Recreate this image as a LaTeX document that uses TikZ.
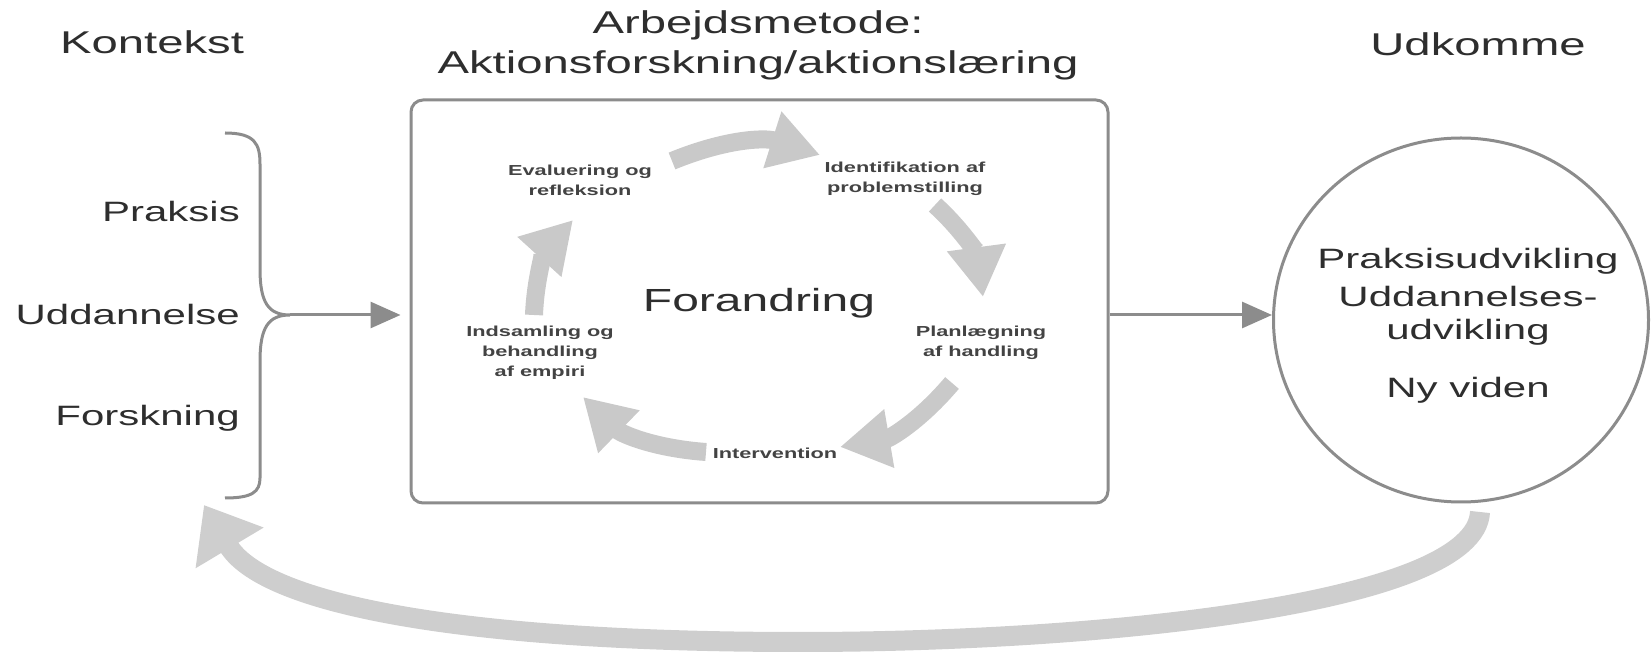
\documentclass[tikz,border=0pt]{standalone}
\usepackage{fontspec}
\setmainfont{Liberation Sans}[FakeStretch=1.5]
\usetikzlibrary{arrows.meta,shapes.geometric}
\definecolor{tekst}{HTML}{2E2E2E}
\definecolor{stregfarve}{HTML}{8C8C8C}
\definecolor{lys}{HTML}{C9C9C9}
\newcommand{\titelfont}{\fontsize{31.5}{40}\selectfont}
\newcommand{\punktfont}{\fontsize{28}{33}\selectfont}
\newcommand{\trinfont}{\fontsize{14.5}{20}\selectfont\bfseries}
\begin{document}
\begin{tikzpicture}[x=1pt,y=1pt,
  titel/.style={inner sep=0pt, text=tekst, font=\titelfont, align=center},
  punkt/.style={inner sep=0pt, text=tekst, font=\punktfont, align=center},
  trin/.style={inner sep=0pt, text=tekst!90, font=\trinfont, align=center},
  streg/.style={draw=stregfarve, line width=3pt},
  pil/.style={streg, -{Triangle[length=30pt,width=26pt]}},
  kredspil/.style={draw=lys, line width=18pt, -{Triangle[length=50pt,width=56pt]}}]
\useasboundingbox (0,0) rectangle (1652,664);

% overskrifter
\node [titel] (kontekst) at (152,622) {Kontekst};
\node [titel] (arbejd) at (758,619) {Arbejdsmetode:\\Aktionsforskning/aktionslæring};
\node [titel] (udk) at (1478,620) {Udkomme};

% kontekst
\node [punkt, anchor=east] (praksis) at (240,453) {Praksis};
\node [punkt, anchor=east] (uddannelse) at (240,350) {Uddannelse};
\node [punkt, anchor=east] (forskning) at (240,246) {Forskning};
\coordinate (spids) at (290,349);
\draw [streg] (225,531) .. controls (255,531) and (260,520) .. (260,500) -- (260,395)
  .. controls (260,362) and (268,349) .. (spids)
  .. controls (268,349) and (260,336) .. (260,303) -- (260,186)
  .. controls (260,172) and (252,166) .. (225,166);

% arbejdsmetode
\node [streg, rounded corners=12pt, minimum width=697pt, minimum height=403pt] (metode) at (759.5,362.5) {};
\node [inner sep=0pt, text=tekst, font=\fontsize{32}{38}\selectfont] (forandring) at (759,361) {Forandring};
\node [trin] (eval) at (580,484) {Evaluering og\\refleksion};
\node [trin] (ident) at (905,485) {Identifikation af\\problemstilling};
\node [trin] (plan) at (981,321) {Planlægning\\af handling};
\node [trin] (interv) at (775,211) {Intervention};
\node [trin] (indsaml) at (540,311) {Indsamling og\\behandling\\af empiri};

% cyklus
\coordinate (k1a) at (672,503);  \coordinate (k1b) at (820,509);
\coordinate (k2a) at (935,459);  \coordinate (k2b) at (983,367);
\coordinate (k3a) at (952,281);  \coordinate (k3b) at (840,217);
\coordinate (k4a) at (706,212);  \coordinate (k4b) at (583,267);
\coordinate (k5a) at (534,349);  \coordinate (k5b) at (573,444);
\draw [kredspil] (k1a) to[bend left=20] (k1b);
\draw [kredspil] (k2a) to[bend left=20] (k2b);
\draw [kredspil] (k3a) to[bend left=20] (k3b);
\draw [kredspil] (k4a) to[bend left=20] (k4b);
\draw [kredspil] (k5a) to[bend left=20] (k5b);

% udkomme
\node [streg, ellipse, inner sep=0pt, minimum width=375pt, minimum height=364pt] (udkomme) at (1461,344) {};
\node [punkt] (pudv) at (1468,403) {Praksisudvikling};
\node [punkt] (uudv) at (1468,348) {Uddannelses-\\udvikling};
\node [punkt] (viden) at (1468,274) {Ny viden};

% pile
\draw [pil, shorten >=9pt] (spids) -- (spids -| metode.west);
\draw [pil] (metode.east |- spids) -- (udkomme.west |- spids);

% tilbage
\coordinate (retur) at (1480,152);
\coordinate (kontekstpil) at (204,159);
\draw [kredspil, draw=lys!90, line width=20pt, -{Triangle[length=50pt,width=76pt]}] (retur)
  .. controls (1476,60) and (1100,22) .. (800,22)
  .. controls (450,22) and (262,62) .. (kontekstpil);
\end{tikzpicture}
\end{document}
